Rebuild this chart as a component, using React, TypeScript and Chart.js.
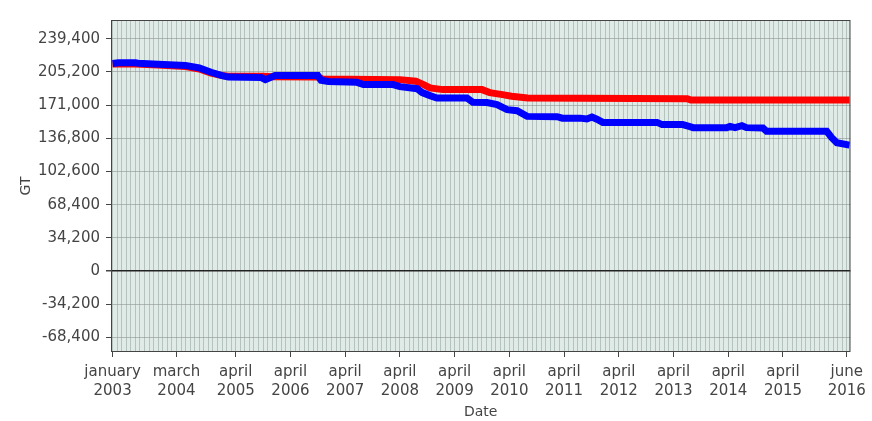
import React, { useEffect, useRef } from 'react';
import { Chart, registerables } from 'chart.js';
Chart.register(...registerables);

// x values are months since January 2003
const BLUE_MONTHS = [0, 1.25, 5, 5.6, 10, 16, 19, 21.6, 24, 25.4, 32.6, 33.5, 34.6, 35.6, 45, 45.7, 47.3, 53.6, 55, 61.5, 63, 66.8, 67.9, 69.6, 71.1, 77.7, 79, 82.1, 84.3, 86.5, 88.7, 90.9, 97.5, 98.6, 102.5, 104, 105.1, 106.2, 107.5, 119.4, 120.5, 125, 126.6, 127.3, 134.7, 135.4, 136.5, 138, 139, 142.6, 143.4, 156.6, 157.7, 158.8, 161.6];
const BLUE_VALUES = [213900, 214600, 214600, 214200, 213100, 211800, 209400, 204900, 201500, 199900, 199400, 197300, 199400, 201500, 201500, 196600, 195300, 194500, 192200, 192200, 190100, 188000, 183900, 180800, 178400, 178400, 173900, 173600, 171500, 166300, 165300, 159400, 159100, 157600, 157600, 156700, 158800, 156500, 153200, 153200, 150900, 150900, 148800, 147800, 147800, 149100, 147800, 149800, 147800, 147500, 144000, 144000, 137400, 132300, 129700];

const RED_MONTHS = [0, 5, 10, 16, 19, 21.6, 24, 25.4, 33, 35, 45, 46, 63, 66.5, 68.2, 69.6, 72.4, 81, 82.7, 85.5, 87.5, 91, 126, 126.8, 161.6];
const RED_VALUES = [213400, 213400, 212300, 210800, 208200, 204000, 201500, 200900, 200900, 200400, 199900, 197900, 197300, 195600, 192200, 188800, 187000, 187000, 183900, 181800, 180100, 178400, 177700, 176200, 176200];

const Y_TICKS = [-68400, -34200, 0, 34200, 68400, 102600, 136800, 171000, 205200, 239400];
const X_TICK_MONTHS = [0, 14, 27, 39, 51, 63, 75, 87, 99, 111, 123, 135, 147, 161];
const X_TICK_LABELS = [
  ['january', '2003'], ['march', '2004'], ['april', '2005'], ['april', '2006'],
  ['april', '2007'], ['april', '2008'], ['april', '2009'], ['april', '2010'],
  ['april', '2011'], ['april', '2012'], ['april', '2013'], ['april', '2014'],
  ['april', '2015'], ['june', '2016'],
];
const X_LAST_MONTH = 161;

const FONT = 'DejaVu Sans';

export default function App() {
  const ref = useRef<HTMLCanvasElement | null>(null);
  useEffect(() => {
    if (!ref.current) return;
    const bgPlugin = {
      id: 'plotbg',
      beforeDraw(chart: any) {
        const { ctx, chartArea: a } = chart;
        ctx.save();
        ctx.fillStyle = '#ffffff';
        ctx.fillRect(0, 0, chart.width, chart.height);
        ctx.fillStyle = '#e0ebe7';
        ctx.fillRect(a.left, a.top, a.right - a.left, a.bottom - a.top);
        ctx.restore();
      },
      afterDraw(chart: any) {
        const { ctx, chartArea: a } = chart;
        ctx.save();
        ctx.strokeStyle = '#444';
        ctx.lineWidth = 1;
        ctx.strokeRect(a.left + 0.5, a.top + 0.5, a.right - a.left - 1, a.bottom - a.top - 1);
        ctx.restore();
      },
    };
    const chart = new Chart(ref.current, {
      type: 'line',
      data: {
        datasets: [
          {
            label: 'blue',
            data: BLUE_MONTHS.map((m, i) => ({ x: m, y: BLUE_VALUES[i] })),
            borderColor: '#0000ff',
            backgroundColor: '#0000ff',
            borderWidth: 7,
            pointRadius: 0,
            tension: 0,
            order: 0,
          },
          {
            label: 'red',
            data: RED_MONTHS.map((m, i) => ({ x: m, y: RED_VALUES[i] })),
            borderColor: '#ff0000',
            backgroundColor: '#ff0000',
            borderWidth: 7,
            pointRadius: 0,
            tension: 0,
            order: 1,
          },
        ],
      },
      options: {
        animation: false,
        responsive: false,
        maintainAspectRatio: false,
        layout: { padding: { left: 0, top: 20, right: 21, bottom: 0 } },
        plugins: { legend: { display: false }, tooltip: { enabled: false }, title: { display: false } },
        scales: {
          x: {
            type: 'linear',
            min: -0.35,
            max: 161.8,
            afterBuildTicks(scale: any) {
              const t = [];
              for (let m = 0; m <= X_LAST_MONTH; m++) t.push({ value: m });
              scale.ticks = t;
            },
            afterFit(scale: any) {
              scale.height = 69;
            },
            ticks: {
              autoSkip: false,
              maxRotation: 0,
              minRotation: 0,
              padding: 6,
              color: '#444',
              font: { family: FONT, size: 15, lineHeight: 1.27 },
              callback: (v: any) => {
                const i = X_TICK_MONTHS.indexOf(Number(v));
                return i >= 0 ? X_TICK_LABELS[i] : '';
              },
            },
            grid: {
              color: 'rgba(150,168,162,0.6)',
              lineWidth: 1,
              tickLength: 5,
              tickColor: (ctx: any) => (ctx.tick && X_TICK_MONTHS.includes(ctx.tick.value) ? '#444' : 'rgba(0,0,0,0)'),
            },
            border: { display: false },
            title: {
              display: true,
              text: 'Date',
              color: '#444',
              font: { family: FONT, size: 14 },
              padding: { top: 0, bottom: 0 },
            },
          },
          y: {
            type: 'linear',
            min: -83600,
            max: 258800,
            afterBuildTicks(scale: any) {
              scale.ticks = Y_TICKS.map((v) => ({ value: v }));
            },
            afterFit(scale: any) {
              scale.width = 111;
            },
            ticks: {
              padding: 6,
              color: '#444',
              font: { family: FONT, size: 15 },
              callback: (v: any) => Number(v).toLocaleString('en-US'),
            },
            grid: {
              color: (ctx: any) => (ctx.tick && ctx.tick.value === 0 ? '#222' : 'rgba(140,148,145,0.6)'),
              lineWidth: (ctx: any) => (ctx.tick && ctx.tick.value === 0 ? 1.5 : 1),
              tickLength: 5,
              tickColor: '#444',
            },
            border: { display: false },
            title: {
              display: true,
              text: 'GT',
              color: '#444',
              font: { family: FONT, size: 14 },
              padding: { top: 18, bottom: 0 },
            },
          },
        },
      },
      plugins: [bgPlugin],
    } as any);
    return () => chart.destroy();
  }, []);
  return (
    <div style={{ position: 'absolute', left: 0, top: 0, width: 872, height: 421, background: '#fff' }}>
      <canvas ref={ref} width={872} height={421} style={{ width: 872, height: 421, display: 'block' }} />
    </div>
  );
}
